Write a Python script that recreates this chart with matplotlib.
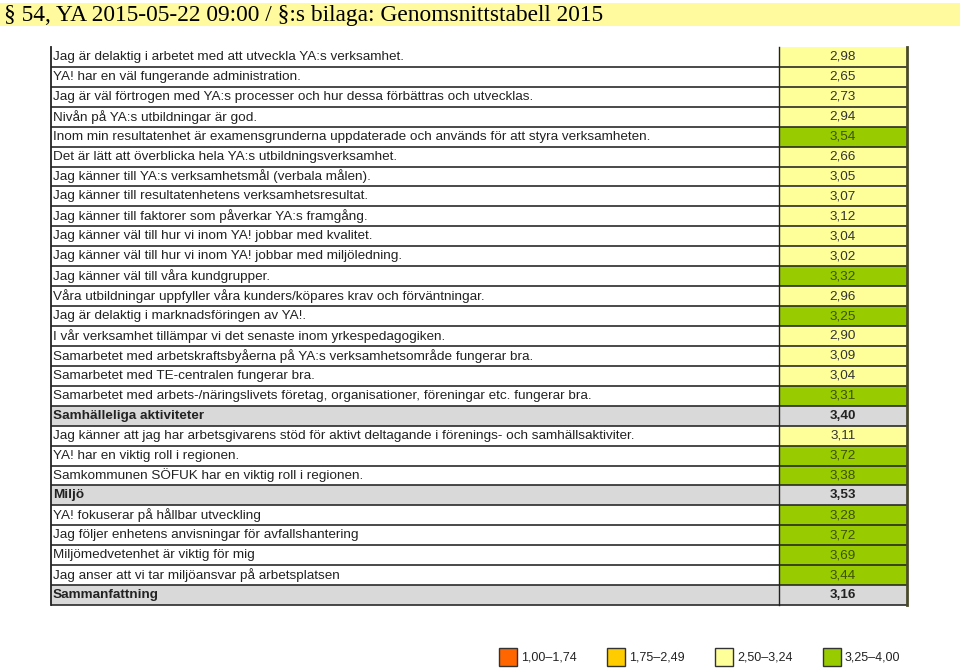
import matplotlib
matplotlib.use('Agg')
import matplotlib.pyplot as plt
from matplotlib.patches import Rectangle

# table content
labels = [
    "Jag är delaktig i arbetet med att utveckla YA:s verksamhet.",
    "YA! har en väl fungerande administration.",
    "Jag är väl förtrogen med YA:s processer och hur dessa förbättras och utvecklas.",
    "Nivån på YA:s utbildningar är god.",
    "Inom min resultatenhet är examensgrunderna uppdaterade och används för att styra verksamheten.",
    "Det är lätt att överblicka hela YA:s utbildningsverksamhet.",
    "Jag känner till YA:s verksamhetsmål (verbala målen).",
    "Jag känner till resultatenhetens verksamhetsresultat.",
    "Jag känner till faktorer som påverkar YA:s framgång.",
    "Jag känner väl till hur vi inom YA! jobbar med kvalitet.",
    "Jag känner väl till hur vi inom YA! jobbar med miljöledning.",
    "Jag känner väl till våra kundgrupper.",
    "Våra utbildningar uppfyller våra kunders/köpares krav och förväntningar.",
    "Jag är delaktig i marknadsföringen av YA!.",
    "I vår verksamhet tillämpar vi det senaste inom yrkespedagogiken.",
    "Samarbetet med arbetskraftsbyåerna på YA:s verksamhetsområde fungerar bra.",
    "Samarbetet med TE-centralen fungerar bra.",
    "Samarbetet med arbets-/näringslivets företag, organisationer, föreningar etc. fungerar bra.",
    "Samhälleliga aktiviteter",
    "Jag känner att jag har arbetsgivarens stöd för aktivt deltagande i förenings- och samhällsaktiviter.",
    "YA! har en viktig roll i regionen.",
    "Samkommunen SÖFUK har en viktig roll i regionen.",
    "Miljö",
    "YA! fokuserar på hållbar utveckling",
    "Jag följer enhetens anvisningar för avfallshantering",
    "Miljömedvetenhet är viktig för mig",
    "Jag anser att vi tar miljöansvar på arbetsplatsen",
    "Sammanfattning",
]
values = [2.98, 2.65, 2.73, 2.94, 3.54, 2.66, 3.05, 3.07, 3.12, 3.04, 3.02, 3.32,
          2.96, 3.25, 2.90, 3.09, 3.04, 3.31, 3.40, 3.11, 3.72, 3.38, 3.53, 3.28,
          3.72, 3.69, 3.44, 3.16]
header_rows = [18, 22, 27]

legend_labels = ["1,00\u20131,74", "1,75\u20132,49", "2,50\u20133,24", "3,25\u20134,00"]
legend_colors = ['#ff6600', '#ffcc00', '#ffff99', '#99cc00']
bin_edges = [1.75, 2.50, 3.25]

title = "§ 54, YA 2015-05-22 09:00 / §:s bilaga: Genomsnittstabell 2015"


def value_color(v):
    for edge, col in zip(bin_edges, legend_colors):
        if v < edge:
            return col
    return legend_colors[-1]


def fmt(v):
    return f"{v:.2f}".replace('.', ',')


fig = plt.figure(figsize=(9.6, 6.69), dpi=100)
ax = fig.add_axes([0, 0, 1, 1])
ax.set_xlim(0, 960)
ax.set_ylim(669, 0)
ax.axis('off')

# title banner
ax.add_patch(Rectangle((0, 3), 960, 23, facecolor='#fffa9e', edgecolor='none'))
ax.text(4, 15, title, fontsize=16.8, family='Liberation Serif', va='center', ha='left')

x0, x1, x2 = 51, 779, 907
top = 47
rh = (605 - top) / len(labels)
fs = 9.7

for i, (lab, val) in enumerate(zip(labels, values)):
    y = top + i * rh
    yc = y + rh / 2
    if i in header_rows:
        ax.add_patch(Rectangle((x0, y), x2 - x0, rh, facecolor='#d9d9d9', edgecolor='none'))
        ax.text(x0 + 2, yc, lab, fontsize=fs, fontweight='bold', family='Liberation Sans',
                va='center', ha='left', color='#222222')
        ax.text((x1 + x2) / 2, yc, fmt(val), fontsize=fs, fontweight='bold',
                family='Liberation Sans', va='center', ha='center', color='#222222')
    else:
        col = value_color(val)
        ax.add_patch(Rectangle((x1, y), x2 - x1, rh, facecolor=col, edgecolor='none'))
        ax.text(x0 + 2, yc, lab, fontsize=fs, family='Liberation Sans',
                va='center', ha='left', color='#222222')
        tcol = '#3d5200' if col == '#99cc00' else '#333333'
        ax.text((x1 + x2) / 2, yc, fmt(val), fontsize=fs, family='Liberation Sans',
                va='center', ha='center', color=tcol)
    # row separator
    ax.plot([x0, x2], [y + rh, y + rh], color='#2a2a2a', lw=1.2, solid_capstyle='butt')

# borders
ax.plot([x0, x0], [top, 605], color='#222222', lw=1.3)
ax.plot([x1, x1], [top, 605], color='#222222', lw=1.0)
ax.plot([x2, x2], [top, 605], color='#4a4a2a', lw=2.0)

# legend
for k, (lab, col) in enumerate(zip(legend_labels, legend_colors)):
    lx = 499 + k * 108
    ax.add_patch(Rectangle((lx, 648), 18, 18, facecolor=col, edgecolor='#333333', lw=1.0))
    ax.text(lx + 22, 657, lab, fontsize=9, family='Liberation Sans', va='center',
            ha='left', color='#222222')

fig.savefig('out.png', dpi=100)
